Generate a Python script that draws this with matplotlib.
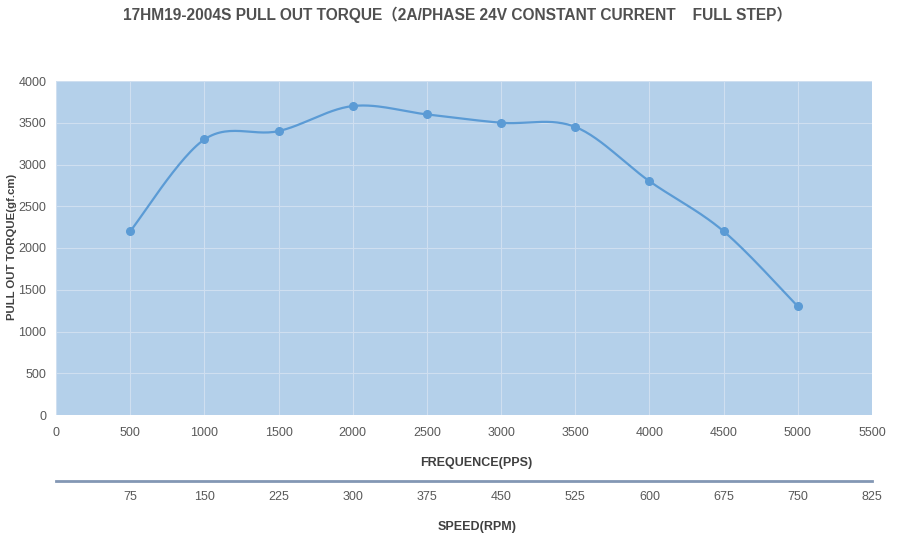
import numpy as np
import matplotlib.pyplot as plt
from matplotlib import font_manager

freq = [500, 1000, 1500, 2000, 2500, 3000, 3500, 4000, 4500, 5000]
torque = [2200, 3300, 3400, 3700, 3600, 3500, 3450, 2800, 2200, 1300]
freq_ticks = [0, 500, 1000, 1500, 2000, 2500, 3000, 3500, 4000, 4500, 5000, 5500]
speed_ticks = [75, 150, 225, 300, 375, 450, 525, 600, 675, 750, 825]
torque_ticks = [0, 500, 1000, 1500, 2000, 2500, 3000, 3500, 4000]

names = set(f.name for f in font_manager.fontManager.ttflist)
narrow = 'Liberation Sans Narrow' if 'Liberation Sans Narrow' in names else 'Liberation Sans'
plt.rcParams['font.family'] = [narrow, 'Noto Sans CJK SC', 'DejaVu Sans']


def smooth(xs, ys, n=30):
    # bezier segments like the spreadsheet "smoothed line"
    xs = np.asarray(xs, float)
    ys = np.asarray(ys, float)
    px = np.concatenate([[xs[0]], xs, [xs[-1]]])
    py = np.concatenate([[ys[0]], ys, [ys[-1]]])
    out_x, out_y = [], []
    t = np.linspace(0, 1, n)
    for i in range(1, len(px) - 2):
        p0 = np.array([px[i], py[i]])
        p3 = np.array([px[i + 1], py[i + 1]])
        c1 = p0 + (np.array([px[i + 1], py[i + 1]]) - np.array([px[i - 1], py[i - 1]])) / 6
        c2 = p3 - (np.array([px[i + 2], py[i + 2]]) - np.array([px[i], py[i]])) / 6
        b = ((1 - t) ** 3)[:, None] * p0 + (3 * (1 - t) ** 2 * t)[:, None] * c1 \
            + (3 * (1 - t) * t ** 2)[:, None] * c2 + (t ** 3)[:, None] * p3
        out_x.extend(b[:, 0])
        out_y.extend(b[:, 1])
    return out_x, out_y


fig = plt.figure(figsize=(9.21, 5.55), dpi=100)
ax = fig.add_axes([56 / 921, 1 - 415 / 555, 816 / 921, 334 / 555])
ax.set_facecolor('#b4d0ea')
ax.set_xlim(0, 5500)
ax.set_ylim(0, 4000)
ax.set_xticks(freq_ticks)
ax.set_yticks(torque_ticks)
ax.grid(True, color='#cfdff0', linewidth=0.8)
ax.set_axisbelow(True)
for s in ax.spines.values():
    s.set_visible(False)
ax.tick_params(length=0, labelsize=9, labelcolor='#595959')
ax.tick_params(axis='x', pad=9)
ax.tick_params(axis='y', pad=7)

sx, sy = smooth(freq, torque)
ax.plot(sx, sy, color='#5b9bd5', linewidth=1.6)
ax.plot(freq, torque, 'o', color='#5b9bd5', markersize=5.5)

fig.text(12 / 921, 1 - 247 / 555, 'PULL OUT TORQUE(gf.cm)', rotation=90, ha='center', va='center',
         fontsize=8.2, fontweight='bold', color='#404040')

sec = ax.secondary_xaxis(-66 / 334, functions=(lambda v: v * 0.15, lambda v: v / 0.15))
sec.set_xticks(speed_ticks)
sec.spines['bottom'].set_color('#8397b4')
sec.spines['bottom'].set_linewidth(2)
sec.tick_params(length=0, labelsize=9, labelcolor='#595959', pad=7)

fig.text(476 / 921, 1 - 463 / 555, 'FREQUENCE(PPS)', ha='center', va='center',
         fontsize=9, fontweight='bold', color='#404040')
fig.text(477 / 921, 1 - 527 / 555, 'SPEED(RPM)', ha='center', va='center',
         fontsize=9, fontweight='bold', color='#404040')
fig.text(457 / 921, 1 - 15 / 555,
         '17HM19-2004S PULL OUT TORQUE（2A/PHASE 24V CONSTANT CURRENT    FULL STEP）',
         ha='center', va='center', fontsize=11.2, fontweight='bold', color='#505050')

fig.savefig('out.png', dpi=100)
